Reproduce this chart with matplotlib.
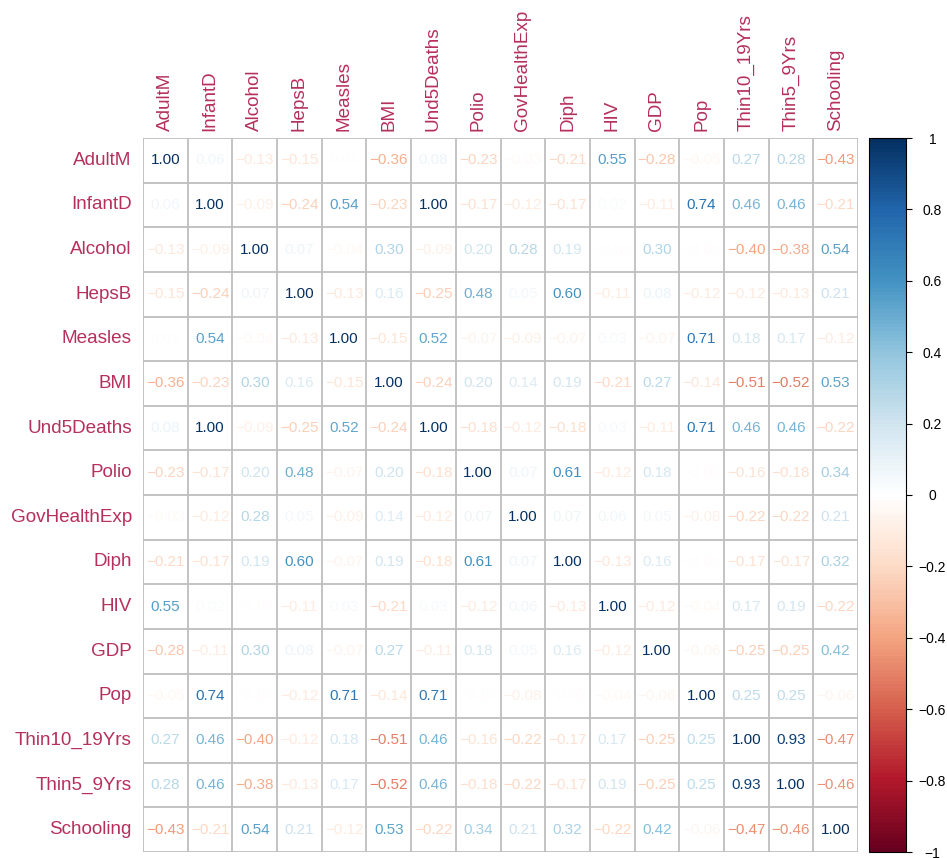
import numpy as np
import matplotlib
matplotlib.use("Agg")
import matplotlib.pyplot as plt
from matplotlib.colors import LinearSegmentedColormap, Normalize
from matplotlib.cm import ScalarMappable

plt.rcParams['font.family'] = ['Liberation Sans', 'DejaVu Sans']

labels = ['AdultM', 'InfantD', 'Alcohol', 'HepsB', 'Measles', 'BMI', 'Und5Deaths',
          'Polio', 'GovHealthExp', 'Diph', 'HIV', 'GDP', 'Pop', 'Thin10_19Yrs',
          'Thin5_9Yrs', 'Schooling']

corr = [
    [1.00, 0.06, -0.13, -0.15, 0.01, -0.36, 0.08, -0.23, -0.03, -0.21, 0.55, -0.28, -0.05, 0.27, 0.28, -0.43],
    [0.06, 1.00, -0.09, -0.24, 0.54, -0.23, 1.00, -0.17, -0.12, -0.17, 0.02, -0.11, 0.74, 0.46, 0.46, -0.21],
    [-0.13, -0.09, 1.00, 0.07, -0.04, 0.30, -0.09, 0.20, 0.28, 0.19, -0.02, 0.30, -0.02, -0.40, -0.38, 0.54],
    [-0.15, -0.24, 0.07, 1.00, -0.13, 0.16, -0.25, 0.48, 0.05, 0.60, -0.11, 0.08, -0.12, -0.12, -0.13, 0.21],
    [0.01, 0.54, -0.04, -0.13, 1.00, -0.15, 0.52, -0.07, -0.09, -0.07, 0.03, -0.07, 0.71, 0.18, 0.17, -0.12],
    [-0.36, -0.23, 0.30, 0.16, -0.15, 1.00, -0.24, 0.20, 0.14, 0.19, -0.21, 0.27, -0.14, -0.51, -0.52, 0.53],
    [0.08, 1.00, -0.09, -0.25, 0.52, -0.24, 1.00, -0.18, -0.12, -0.18, 0.03, -0.11, 0.71, 0.46, 0.46, -0.22],
    [-0.23, -0.17, 0.20, 0.48, -0.07, 0.20, -0.18, 1.00, 0.07, 0.61, -0.12, 0.18, -0.02, -0.16, -0.18, 0.34],
    [-0.03, -0.12, 0.28, 0.05, -0.09, 0.14, -0.12, 0.07, 1.00, 0.07, 0.06, 0.05, -0.08, -0.22, -0.22, 0.21],
    [-0.21, -0.17, 0.19, 0.60, -0.07, 0.19, -0.18, 0.61, 0.07, 1.00, -0.13, 0.16, -0.02, -0.17, -0.17, 0.32],
    [0.55, 0.02, -0.02, -0.11, 0.03, -0.21, 0.03, -0.12, 0.06, -0.13, 1.00, -0.12, -0.04, 0.17, 0.19, -0.22],
    [-0.28, -0.11, 0.30, 0.08, -0.07, 0.27, -0.11, 0.18, 0.05, 0.16, -0.12, 1.00, -0.06, -0.25, -0.25, 0.42],
    [-0.05, 0.74, -0.02, -0.12, 0.71, -0.14, 0.71, -0.02, -0.08, -0.02, -0.04, -0.06, 1.00, 0.25, 0.25, -0.06],
    [0.27, 0.46, -0.40, -0.12, 0.18, -0.51, 0.46, -0.16, -0.22, -0.17, 0.17, -0.25, 0.25, 1.00, 0.93, -0.47],
    [0.28, 0.46, -0.38, -0.13, 0.17, -0.52, 0.46, -0.18, -0.22, -0.17, 0.19, -0.25, 0.25, 0.93, 1.00, -0.46],
    [-0.43, -0.21, 0.54, 0.21, -0.12, 0.53, -0.22, 0.34, 0.21, 0.32, -0.22, 0.42, -0.06, -0.47, -0.46, 1.00],
]

cbar_ticks = [-1, -0.8, -0.6, -0.4, -0.2, 0, 0.2, 0.4, 0.6, 0.8, 1]

rdbu = ["#67001F", "#B2182B", "#D6604D", "#F4A582", "#FDDBC7", "#FFFFFF",
        "#D1E5F0", "#92C5DE", "#4393C3", "#2166AC", "#053061"]
cmap = LinearSegmentedColormap.from_list("rdbu", rdbu, N=200)
norm = Normalize(-1, 1)
label_col = '#B5305C'

W, H = 947, 858
fig = plt.figure(figsize=(W / 100, H / 100), dpi=100)
ax = fig.add_axes([143 / W, 6 / H, 715 / W, 714 / H])

n = len(labels)
for i, row in enumerate(corr):
    for j, v in enumerate(row):
        txt = f"{v:.2f}".replace('-', '\u2212')
        ax.text(j + 0.5, i + 0.5, txt, ha='center', va='center',
                fontsize=11, color=cmap(norm(v)))

for k in range(n + 1):
    ax.axhline(k, color='#BEBEBE', lw=1.3)
    ax.axvline(k, color='#BEBEBE', lw=1.3)

ax.set_xlim(0, n)
ax.set_ylim(n, 0)
for s in ax.spines.values():
    s.set_visible(False)
ax.set_xticks([])
ax.set_yticks([])

for k, name in enumerate(labels):
    ax.text(-0.25, k + 0.5, name, ha='right', va='center', fontsize=13.6, color=label_col)
    ax.text(k + 0.5, -0.15, name, ha='center', va='bottom', rotation=90,
            fontsize=13.6, color=label_col)

cax = fig.add_axes([869 / W, 6 / H, 37 / W, 714 / H])
cb = fig.colorbar(ScalarMappable(norm=norm, cmap=cmap), cax=cax, ticks=cbar_ticks)
cb.outline.set_linewidth(0.8)
cb.ax.tick_params(length=4, width=0.8, labelsize=10, pad=3)
cb.ax.set_yticklabels([f"{t:g}".replace('-', '\u2212') for t in cbar_ticks], ha='center')
for t in cb.ax.get_yticklabels():
    t.set_x(t.get_position()[0] + 0.45)

fig.savefig('out.png', dpi=100)
